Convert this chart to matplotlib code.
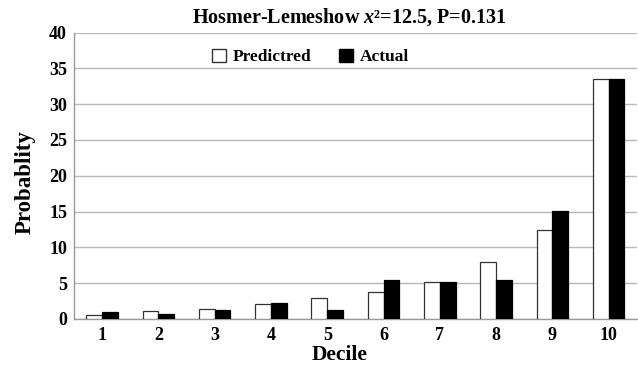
import numpy as np
import matplotlib
matplotlib.use('Agg')
import matplotlib.pyplot as plt
from matplotlib.patches import Patch

plt.rcParams['font.family'] = ['Liberation Serif', 'DejaVu Serif']
plt.rcParams['font.weight'] = 'bold'
plt.rcParams['mathtext.fontset'] = 'custom'
plt.rcParams['mathtext.rm'] = 'Liberation Serif:bold'
plt.rcParams['mathtext.it'] = 'Liberation Serif:bold:italic'
plt.rcParams['mathtext.bf'] = 'Liberation Serif:bold'

# data
deciles = ['1', '2', '3', '4', '5', '6', '7', '8', '9', '10']
predicted = [0.5, 1.1, 1.45, 2.1, 2.95, 3.8, 5.2, 7.9, 12.4, 33.5]
actual = [0.9, 0.65, 1.25, 2.2, 1.25, 5.5, 5.2, 5.5, 15.1, 33.5]

fig = plt.figure(figsize=(6.38, 3.70), dpi=100)
ax = fig.add_axes([0.116, 0.138, 0.882, 0.774])

x = np.arange(len(deciles))
w = 0.28
ax.bar(x - w / 2, predicted, w, color='white', edgecolor='#333333', linewidth=0.9, zorder=3)
ax.bar(x + w / 2, actual, w, color='black', edgecolor='black', linewidth=0.9, zorder=3)

ax.set_xlim(-0.5, 9.5)
ax.set_ylim(0, 40)
ax.set_yticks(np.arange(0, 41, 5))
ax.set_xticks(x)
ax.set_xticklabels(deciles)
ax.tick_params(axis='both', length=0, labelsize=13)
ax.tick_params(axis='x', pad=6)
ax.tick_params(axis='y', pad=5)
ax.yaxis.grid(True, color='#b8b8b8', linewidth=1.0, zorder=0)
ax.set_axisbelow(True)

for s in ['top', 'right']:
    ax.spines[s].set_visible(False)
for s in ['left', 'bottom']:
    ax.spines[s].set_color('#999999')
    ax.spines[s].set_linewidth(1.0)

ax.set_xlabel('Decile', fontsize=15.5, fontweight='bold')
ax.xaxis.set_label_coords(0.472, -0.092)
ax.set_ylabel('Probablity', fontsize=16.5, fontweight='bold')
ax.yaxis.set_label_coords(-0.068, 0.479)
fig.text(0.547, 0.954, r'Hosmer-Lemeshow $\mathit{x}$²=12.5, P=0.131',
         ha='center', va='center', fontsize=14.5, fontweight='bold')

handles = [Patch(facecolor='white', edgecolor='#333333', label='Predictred'),
           Patch(facecolor='black', edgecolor='black', label='Actual')]
ax.legend(handles=handles, loc='center', bbox_to_anchor=(0.42, 0.915), ncol=2,
          frameon=False, fontsize=12.5, handlelength=0.8, handleheight=0.8,
          handletextpad=0.4, columnspacing=1.6)

fig.savefig('out.png', dpi=100)
